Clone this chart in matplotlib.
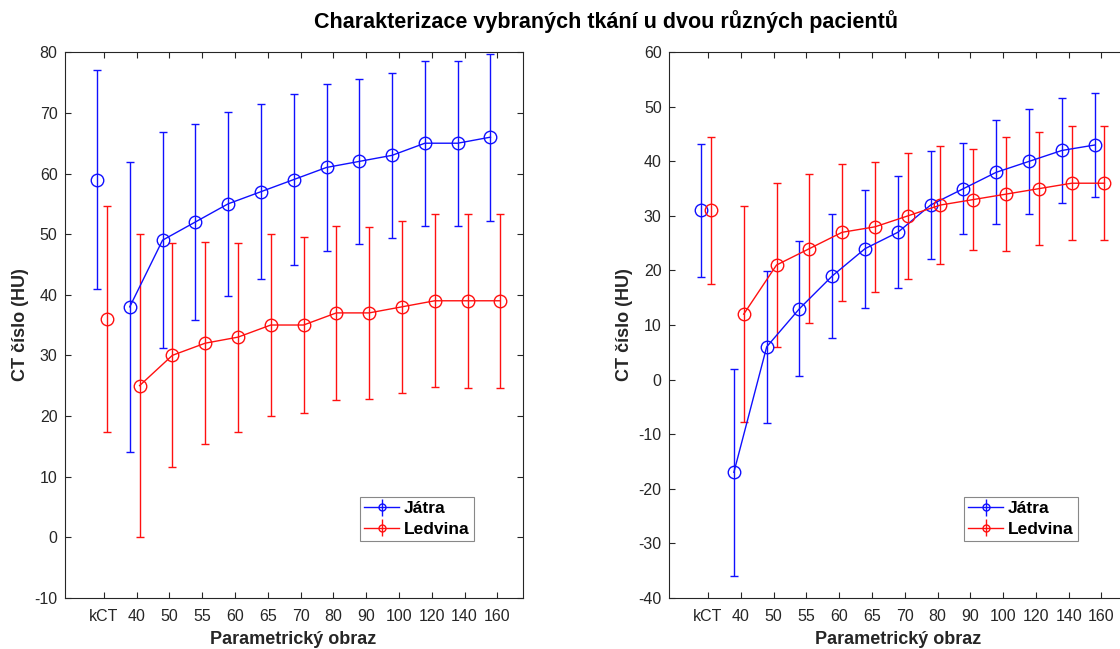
import numpy as np
import matplotlib
matplotlib.use('Agg')
import matplotlib.pyplot as plt

plt.rcParams['font.family'] = ['Liberation Sans', 'DejaVu Sans']
plt.rcParams['axes.unicode_minus'] = False

labels = ['kCT', '40', '50', '55', '60', '65', '70', '80', '90', '100', '120', '140', '160']

# patient 1
jatra1 = [59, 38, 49, 52, 55, 57, 59, 61, 62, 63, 65, 65, 66]
jatra1_err = [18, 23.9, 17.8, 16.2, 15.2, 14.4, 14.1, 13.8, 13.6, 13.6, 13.6, 13.6, 13.8]
ledvina1 = [36, 25, 30, 32, 33, 35, 35, 37, 37, 38, 39, 39, 39]
ledvina1_err = [18.6, 25, 18.5, 16.7, 15.6, 15, 14.6, 14.3, 14.2, 14.2, 14.3, 14.4, 14.4]

# patient 2
jatra2 = [31, -17, 6, 13, 19, 24, 27, 32, 35, 38, 40, 42, 43]
jatra2_err = [12.2, 19, 13.9, 12.4, 11.4, 10.8, 10.3, 9.9, 8.4, 9.5, 9.6, 9.6, 9.6]
ledvina2 = [31, 12, 21, 24, 27, 28, 30, 32, 33, 34, 35, 36, 36]
ledvina2_err = [13.5, 19.8, 15, 13.6, 12.6, 11.9, 11.5, 10.9, 9.2, 10.5, 10.4, 10.4, 10.4]

x = np.arange(1, len(labels) + 1)
blue = '#1010ff'
red = '#ff1010'
grey = '#262626'

fig = plt.figure(figsize=(11.2, 6.49), dpi=100)
ax1 = fig.add_axes([0.0576, 0.079, 0.409, 0.8404])
ax2 = fig.add_axes([0.597, 0.079, 0.409, 0.8404])


def draw(ax, jat, jat_err, led, led_err, ylim, yticks):
    xb = x - 0.21
    xr = x + 0.09
    style = dict(marker='o', markersize=9, mfc='none', mew=1.0, lw=1.0,
                 elinewidth=1.0, capsize=3, capthick=1.0)
    # kCT point separately (not connected)
    ax.errorbar(xb[:1], jat[:1], yerr=jat_err[:1], color=blue, ls='none', **style)
    ax.errorbar(xr[:1], led[:1], yerr=led_err[:1], color=red, ls='none', **style)
    ax.errorbar(xb[1:], jat[1:], yerr=jat_err[1:], color=blue, **style)
    ax.errorbar(xr[1:], led[1:], yerr=led_err[1:], color=red, **style)

    ax.set_xlim(-0.2, 13.77)
    ax.set_ylim(*ylim)
    ax.set_yticks(yticks)
    ax.set_xticks(x)
    ax.set_xticklabels(labels)
    ax.tick_params(direction='in', top=True, right=True, length=4,
                   labelsize=11.5, colors=grey, width=0.8)
    ax.tick_params(axis='x', pad=8)
    ax.tick_params(axis='y', pad=5)
    for s in ax.spines.values():
        s.set_color(grey)
        s.set_linewidth(0.8)
    ax.set_xlabel('Parametrický obraz', fontsize=13, fontweight='bold', color=grey, labelpad=5)
    ax.set_ylabel('CT číslo (HU)', fontsize=13, fontweight='bold', color=grey, labelpad=4)

    # legend handles with small markers
    lh1 = ax.errorbar([], [], yerr=[], color=blue, marker='o', markersize=5, mfc='none',
                      lw=1.0, capsize=3)
    lh2 = ax.errorbar([], [], yerr=[], color=red, marker='o', markersize=5, mfc='none',
                      lw=1.0, capsize=3)
    leg = ax.legend([lh1, lh2], ['Játra', 'Ledvina'], loc='lower right',
                    bbox_to_anchor=(0.894, 0.104), borderaxespad=0, fancybox=False,
                    edgecolor='#888888', framealpha=1, handlelength=2.0,
                    handletextpad=0.3, borderpad=0.25, labelspacing=0.3,
                    prop={'weight': 'bold', 'size': 12.5})
    leg.get_frame().set_linewidth(0.8)


draw(ax1, jatra1, jatra1_err, ledvina1, ledvina1_err, (-10, 80), np.arange(-10, 81, 10))
draw(ax2, jatra2, jatra2_err, ledvina2, ledvina2_err, (-40, 60), np.arange(-40, 61, 10))

fig.suptitle('Charakterizace vybraných tkání u dvou různých pacientů', fontsize=15.5,
             fontweight='bold', x=0.541, y=0.985, va='top')

fig.savefig('out.png', dpi=100)
